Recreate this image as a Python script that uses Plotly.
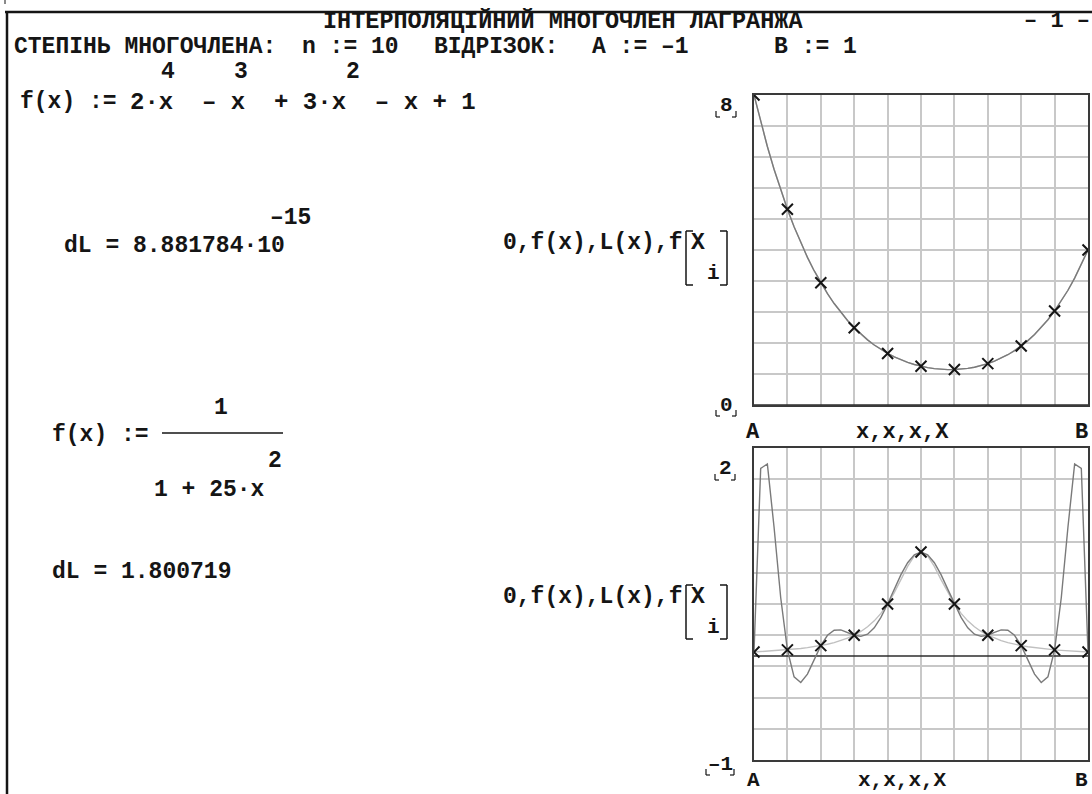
import plotly.graph_objects as go

W, H = 1092, 794
INK = "#151515"
FONT = "Liberation Mono"

# Sample abscissae of the plotted curves over [A, B] and the interpolation nodes X_i (n = 10)
x_samples = [-1.00, -0.96, -0.92, -0.88, -0.84, -0.80, -0.76, -0.72, -0.68, -0.64,
             -0.60, -0.56, -0.52, -0.48, -0.44, -0.40, -0.36, -0.32, -0.28, -0.24,
             -0.20, -0.16, -0.12, -0.08, -0.04, 0.00, 0.04, 0.08, 0.12, 0.16,
             0.20, 0.24, 0.28, 0.32, 0.36, 0.40, 0.44, 0.48, 0.52, 0.56,
             0.60, 0.64, 0.68, 0.72, 0.76, 0.80, 0.84, 0.88, 0.92, 0.96, 1.00]
x_nodes = [-1.0, -0.8, -0.6, -0.4, -0.2, 0.0, 0.2, 0.4, 0.6, 0.8, 1.0]

# Upper plot: f(x) = 2x^4 - x^3 + 3x^2 - x + 1 and its Lagrange polynomial
poly_f = [8.000, 7.308, 6.671, 6.084, 5.545, 5.051, 4.599, 4.186, 3.809, 3.466,
          3.155, 2.873, 2.618, 2.388, 2.181, 1.995, 1.829, 1.681, 1.549, 1.433,
          1.331, 1.242, 1.165, 1.100, 1.045, 1.000, 0.965, 0.939, 0.922, 0.914,
          0.915, 0.926, 0.946, 0.975, 1.016, 1.067, 1.131, 1.207, 1.297, 1.402,
          1.523, 1.662, 1.820, 1.999, 2.201, 2.427, 2.680, 2.961, 3.273, 3.619, 4.000]
poly_L = [8.000, 7.308, 6.671, 6.084, 5.545, 5.051, 4.599, 4.186, 3.809, 3.466,
          3.155, 2.873, 2.618, 2.388, 2.181, 1.995, 1.829, 1.681, 1.549, 1.433,
          1.331, 1.242, 1.165, 1.100, 1.045, 1.000, 0.965, 0.939, 0.922, 0.914,
          0.915, 0.926, 0.946, 0.975, 1.016, 1.067, 1.131, 1.207, 1.297, 1.402,
          1.523, 1.662, 1.820, 1.999, 2.201, 2.427, 2.680, 2.961, 3.273, 3.619, 4.000]
poly_at_nodes = [8.000, 5.051, 3.155, 1.995, 1.331, 1.000, 0.915, 1.067, 1.523, 2.427, 4.000]

# Lower plot: f(x) = 1/(1 + 25x^2) and its Lagrange polynomial
runge_f = [0.038, 0.042, 0.045, 0.049, 0.054, 0.059, 0.065, 0.072, 0.080, 0.089,
           0.100, 0.113, 0.129, 0.148, 0.171, 0.200, 0.236, 0.281, 0.338, 0.410,
           0.500, 0.610, 0.735, 0.862, 0.962, 1.000, 0.962, 0.862, 0.735, 0.610,
           0.500, 0.410, 0.338, 0.281, 0.236, 0.200, 0.171, 0.148, 0.129, 0.113,
           0.100, 0.089, 0.080, 0.072, 0.065, 0.059, 0.054, 0.049, 0.045, 0.042, 0.038]
runge_L = [0.038, 1.804, 1.846, 1.240, 0.560, 0.059, -0.201, -0.255, -0.174, -0.036,
           0.100, 0.199, 0.247, 0.251, 0.228, 0.200, 0.189, 0.210, 0.271, 0.371,
           0.500, 0.643, 0.782, 0.897, 0.973, 1.000, 0.973, 0.897, 0.782, 0.643,
           0.500, 0.371, 0.271, 0.210, 0.189, 0.200, 0.228, 0.251, 0.247, 0.199,
           0.100, -0.036, -0.174, -0.255, -0.201, 0.059, 0.560, 1.240, 1.846, 1.804, 0.038]
runge_at_nodes = [0.038, 0.059, 0.100, 0.200, 0.500, 1.000, 0.500, 0.200, 0.100, 0.059, 0.038]

zero_x = [-1.0, 1.0]
zero_y = [0.0, 0.0]


def px(x):
    return x / W


def py(y):
    return 1 - y / H


def label(text, x, y, size=23, anchor="left"):
    return dict(text=text, x=px(x), y=py(y), xref="paper", yref="paper",
                xanchor=anchor, yanchor="middle", showarrow=False,
                font=dict(family=FONT, size=size, color=INK, weight="bold"))


def seg(x0, y0, x1, y1, w=1.5, color=INK):
    return dict(type="line", xref="paper", yref="paper",
                x0=px(x0), y0=py(y0), x1=px(x1), y1=py(y1),
                line=dict(color=color, width=w))


fig = go.Figure()
panels = [("x", "y", poly_f, poly_L, poly_at_nodes),
          ("x2", "y2", runge_f, runge_L, runge_at_nodes)]
for xa, ya, f_vals, L_vals, node_vals in panels:
    fig.add_trace(go.Scatter(x=zero_x, y=zero_y, mode="lines",
                             line=dict(color="#2c2c2c", width=1.6), xaxis=xa, yaxis=ya))
    fig.add_trace(go.Scatter(x=x_samples, y=f_vals, mode="lines",
                             line=dict(color="#c0c0c0", width=1.4), xaxis=xa, yaxis=ya))
    fig.add_trace(go.Scatter(x=x_samples, y=L_vals, mode="lines",
                             line=dict(color="#7a7a7a", width=1.4), xaxis=xa, yaxis=ya))
    fig.add_trace(go.Scatter(x=x_nodes, y=node_vals, mode="markers",
                             marker=dict(symbol="x-thin", size=11,
                                         line=dict(color=INK, width=2)),
                             xaxis=xa, yaxis=ya))

frame = dict(showticklabels=False, ticks="", showgrid=True, gridcolor="#c8c8c8",
             gridwidth=1.6, zeroline=False, showline=True, mirror=True,
             linecolor="#3a3a3a", linewidth=2, fixedrange=True)

fig.update_layout(
    width=W, height=H, autosize=False,
    margin=dict(l=0, r=0, t=0, b=0),
    paper_bgcolor="white", plot_bgcolor="white", showlegend=False,
    xaxis=dict(domain=[px(754), px(1088)], range=[-1, 1], tick0=-1, dtick=0.2,
               anchor="y", **frame),
    yaxis=dict(domain=[py(405), py(95)], range=[0, 8], tick0=0, dtick=0.8,
               anchor="x", **frame),
    xaxis2=dict(domain=[px(754), px(1088)], range=[-1, 1], tick0=-1, dtick=0.2,
                anchor="y2", **frame),
    yaxis2=dict(domain=[py(760), py(448)], range=[-1, 2], tick0=-1, dtick=0.3,
                anchor="x2", **frame),
)

notes = [
    label("ІНТЕРПОЛЯЦІЙНИЙ МНОГОЧЛЕН ЛАГРАНЖА", 321, 22, size=23.5),
    label("– 1 –", 1092, 22, size=22, anchor="right"),
    label("СТЕПІНЬ МНОГОЧЛЕНА:", 12, 47),
    label("n := 10", 300, 47),
    label("ВІДРІЗОК:", 432, 47),
    label("A := –1", 590, 47),
    label("B := 1", 772, 47),
    # first function: left-hand side and the polynomial
    label("f(x) :=", 18, 102),
    label("2·x  – x  + 3·x  – x + 1", 128, 102, size=24),
    label("4", 168, 72, anchor="center"),
    label("3", 241, 72, anchor="center"),
    label("2", 353, 72, anchor="center"),
    label("–15", 268, 218),
    label("dL = 8.881784·10", 62, 246),
    # second function
    label("1", 221, 408, anchor="center"),
    label("f(x) :=", 50, 435),
    label("2", 275, 461, anchor="center"),
    label("1 + 25·x", 152, 490),
    label("dL = 1.800719", 50, 572),
]

shapes = [
    seg(5, 12, 1092, 12, w=2.5),
    seg(7, 12, 7, 794, w=2.5),
    seg(5, 0, 5, 4, w=1),
    seg(162, 433, 283, 433, w=1.6),
]

# axis captions of both plots
for dy in (0, 354):
    notes += [
        label("0,f(x),L(x),f", 684, 243 + dy, anchor="right"),
        label("X", 698, 243 + dy, anchor="center"),
        label("i", 713, 273 + dy, size=21, anchor="center"),
    ]
    shapes += [
        seg(686, 231 + dy, 686, 285 + dy), seg(686, 231 + dy, 693, 231 + dy),
        seg(686, 285 + dy, 693, 285 + dy),
        seg(727, 231 + dy, 727, 285 + dy), seg(720, 231 + dy, 727, 231 + dy),
        seg(720, 285 + dy, 727, 285 + dy),
    ]

# range limits with their placeholder corners
for text, cx, cy in [("8", 726, 106), ("0", 726, 405), ("2", 725, 469), ("–1", 720, 764)]:
    notes.append(label(text, cx, cy, size=21, anchor="center"))
    half = 10 if len(text) == 1 else 14
    top, bot = cy + 5, cy + 11
    shapes += [
        seg(cx - half, top, cx - half, bot, w=1.2), seg(cx - half, bot, cx - half + 4, bot, w=1.2),
        seg(cx + half, top, cx + half, bot, w=1.2), seg(cx + half - 4, bot, cx + half, bot, w=1.2),
    ]

for y, size in ((432, 22), (780, 21)):
    notes += [
        label("A", 753, y, size=size, anchor="center"),
        label("x,x,x,X", 902, y, size=size, anchor="center"),
        label("B", 1081, y, size=size, anchor="center"),
    ]

fig.update_layout(annotations=notes, shapes=shapes)
fig.write_html("out.html")
